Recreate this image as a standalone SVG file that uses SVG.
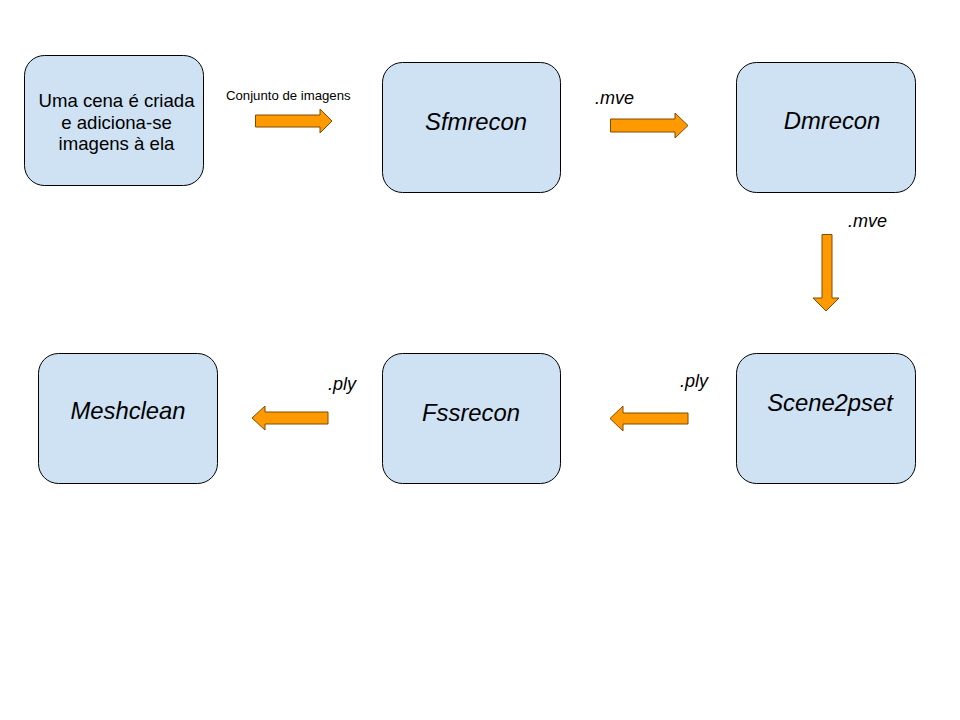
<svg xmlns="http://www.w3.org/2000/svg" width="960" height="720" viewBox="0 0 960 720">
<style>
.node{fill:#cfe2f3;stroke:#000;stroke-width:1}
.arr{fill:#ff9900;stroke:#7f4c00;stroke-width:1}
.t{font-family:"Liberation Sans",Arial,sans-serif;fill:#000}
.big{font-size:23.8px;font-style:italic;text-anchor:middle}
.lab{font-size:18px;font-style:italic}
.n1{font-size:18.6px;text-anchor:middle}
</style>
<rect width="960" height="720" fill="#fff"/>
<g id="node-scene">
<rect class="node" x="24.5" y="55.5" width="179" height="130" rx="20"/>
<text class="t n1" x="116.5" y="107">Uma cena é criada</text>
<text class="t n1" x="116.5" y="128.5">e adiciona-se</text>
<text class="t n1" x="116.5" y="150">imagens à ela</text>
</g>
<g id="node-sfmrecon">
<rect class="node" x="382.5" y="62.5" width="178" height="130" rx="20"/>
<text class="t big" x="476" y="130">Sfmrecon</text>
</g>
<g id="node-dmrecon">
<rect class="node" x="736.5" y="62.5" width="179" height="130" rx="20"/>
<text class="t big" x="832" y="129">Dmrecon</text>
</g>
<g id="node-scene2pset">
<rect class="node" x="736.5" y="353.5" width="179" height="130" rx="20"/>
<text class="t big" x="830" y="411">Scene2pset</text>
</g>
<g id="node-fssrecon">
<rect class="node" x="382.5" y="353.5" width="178" height="130" rx="20"/>
<text class="t big" x="471" y="421">Fssrecon</text>
</g>
<g id="node-meshclean">
<rect class="node" x="38.5" y="353.5" width="179" height="130" rx="20"/>
<text class="t big" x="128" y="419">Meshclean</text>
</g>
<g id="connectors">
<polygon class="arr" points="255.5,115 320,115 320,109 332,121 320,133 320,127 255.5,127"/>
<text class="t" x="226" y="100" font-size="13.2">Conjunto de imagens</text>
<polygon class="arr" points="610.5,119 675,119 675,113 688,125.5 675,138 675,132 610.5,132"/>
<text class="t lab" x="595" y="104">.mve</text>
<polygon class="arr" points="822,234.5 832,234.5 832,298 839,298 826,311 813,298 822,298"/>
<text class="t lab" x="848" y="227">.mve</text>
<polygon class="arr" points="688,413 623,413 623,406 610,418.5 623,431 623,424 688,424"/>
<text class="t lab" x="680" y="387">.ply</text>
<polygon class="arr" points="328,412 265,412 265,406 252,418 265,430 265,424 328,424"/>
<text class="t lab" x="328" y="390">.ply</text>
</g>
</svg>
